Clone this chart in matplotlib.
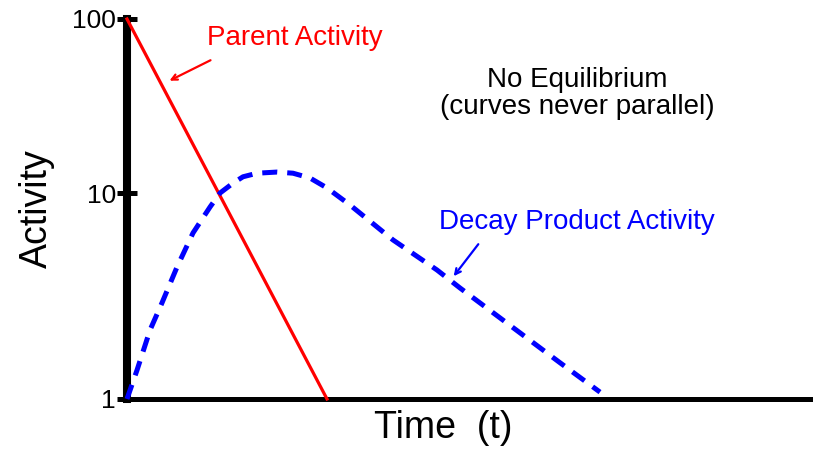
import matplotlib.pyplot as plt
import numpy as np

plt.rcParams['font.family'] = ['Liberation Sans', 'DejaVu Sans']

# parent activity: straight line on the log axis
parent_t = [0, 10]
parent_a = [100, 1]

# decay product activity
product_t = [0, 0.5, 1.15, 1.75, 2.5, 3.3, 4.15, 4.65, 5.3, 5.8, 6.5, 7.5, 8.3,
             9.15, 10.0, 11.15, 13.3, 15.5, 16.65, 21.65, 23.65]
product_a = [1, 1.38, 2.16, 2.93, 4.37, 6.4, 8.55, 10.0, 11.4, 12.4, 13.0, 13.2, 13.0,
             12.2, 10.7, 8.75, 5.92, 4.23, 3.46, 1.50, 1.08]

yticks = [1, 10, 100]
ytick_labels = ['1', '10', '100']

# the hand drawn axis has uneven decades: 1-10 takes 54% of the height
SPLIT = 0.542


def fwd(v):
    l = np.log10(np.clip(v, 1e-6, None))
    return np.where(l <= 1, l * SPLIT, SPLIT + (l - 1) * (1 - SPLIT))


def inv(f):
    f = np.asarray(f, dtype=float)
    return np.where(f <= SPLIT, 10 ** (f / SPLIT), 10 ** (1 + (f - SPLIT) / (1 - SPLIT)))


fig = plt.figure(figsize=(8.13, 4.49), dpi=100)
ax = fig.add_axes([127 / 813, 50 / 449, 686 / 813, 380 / 449])
ax.set_yscale('function', functions=(fwd, inv))
ax.set_xlim(0, 34.3)
ax.set_ylim(1, 100)

ax.plot(parent_t, parent_a, color='#ff0000', lw=2.3, clip_on=False, zorder=3)
ax.plot(product_t, product_a, color='#0000ff', lw=3.6, dashes=(3.0, 2.0),
        clip_on=False, zorder=3)

for s in ['top', 'right']:
    ax.spines[s].set_visible(False)
ax.spines['left'].set_linewidth(5.8)
ax.spines['bottom'].set_linewidth(3.6)
ax.spines['left'].set_capstyle('projecting')

ax.set_xticks([])
ax.set_yticks(yticks)
ax.set_yticklabels(ytick_labels)
ax.yaxis.set_minor_locator(plt.NullLocator())
ax.tick_params(axis='y', direction='inout', length=14, width=3.6, labelsize=19, pad=1)

ax.set_ylabel('Activity', fontsize=27, labelpad=12)
ax.set_xlabel('Time  (t)', fontsize=27, va='center')
ax.xaxis.set_label_coords(316 / 686, -29 / 380)

fig.text(295 / 813, 1 - 38 / 449, 'Parent Activity', color='#ff0000', fontsize=20,
         ha='center', va='center')
ax.annotate('', xy=(2.0, 43.5), xytext=(213, 449 - 59), textcoords='figure pixels',
            arrowprops=dict(arrowstyle='->', color='#ff0000', lw=1.6))

fig.text(577 / 813, 1 - 80 / 449, 'No Equilibrium', fontsize=20, ha='center', va='center')
fig.text(577 / 813, 1 - 107 / 449, '(curves never parallel)', fontsize=20,
         ha='center', va='center')

fig.text(577 / 813, 1 - 222 / 449, 'Decay Product Activity', color='#0000ff', fontsize=20,
         ha='center', va='center')
ax.annotate('', xy=(16.25, 3.85), xytext=(480, 449 - 242), textcoords='figure pixels',
            arrowprops=dict(arrowstyle='->', color='#0000ff', lw=1.6))

fig.savefig('out.png', dpi=100)
